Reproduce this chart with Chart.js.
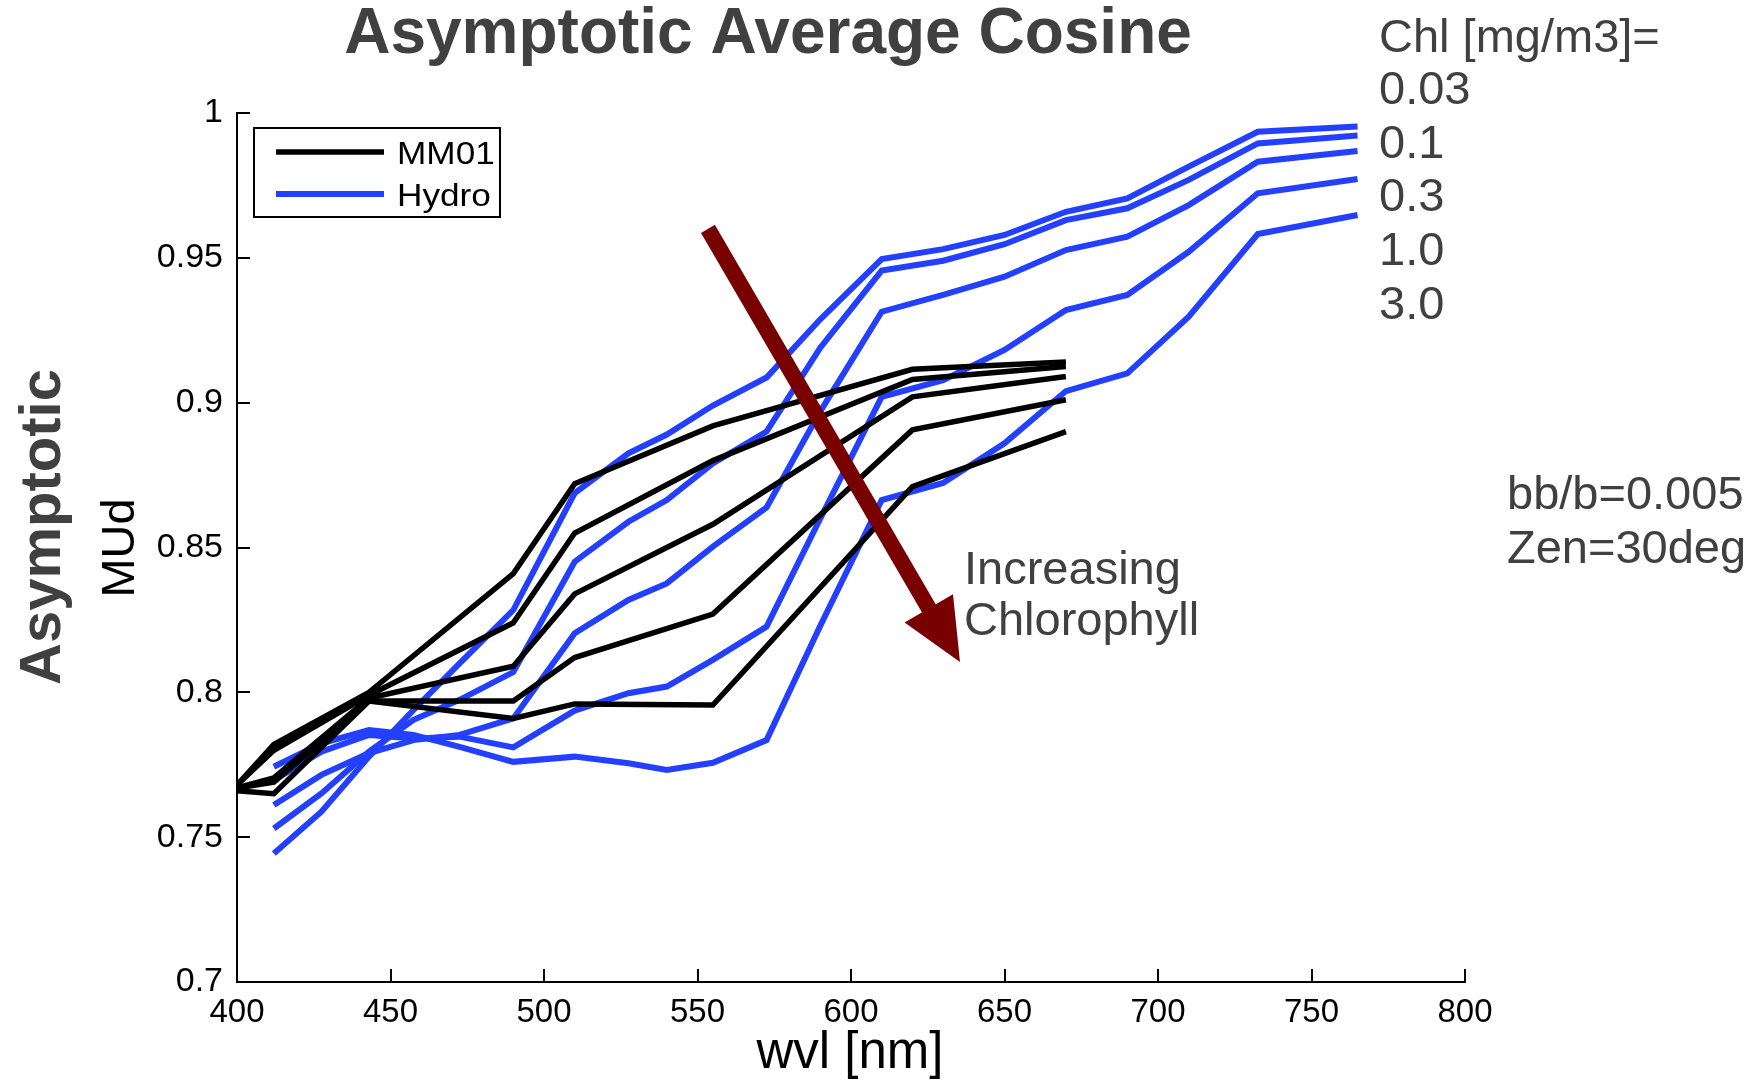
<!DOCTYPE html>
<html>
<head>
<meta charset="utf-8">
<title>Asymptotic Average Cosine</title>
<script src="https://cdn.jsdelivr.net/npm/chart.js@4.4.1/dist/chart.umd.min.js"></script>
<style>
  html, body { margin: 0; padding: 0; background: #fff; }
  #wrap { width: 1754px; height: 1083px; }
</style>
</head>
<body>
<div id="wrap"><canvas id="cosChart" width="1754" height="1083"></canvas></div>
<script>
// wavelength grids [nm]
const wvlMM01 = [400, 412, 443, 490, 510, 555, 620, 670];
const wvlHydro = [412, 427.5, 443, 457.5, 472.5, 490, 510, 527.5, 540, 555, 572.5, 590, 610, 630, 650, 670, 690, 710, 732.5, 765];

// MM01 asymptotic MUd, one array per Chl level
const mm01Chl003 = [0.768, 0.782, 0.800, 0.841, 0.872, 0.892, 0.9115, 0.914];
const mm01Chl01  = [0.768, 0.780, 0.799, 0.824, 0.855, 0.880, 0.908, 0.9125];
const mm01Chl03  = [0.767, 0.7705, 0.798, 0.809, 0.834, 0.858, 0.902, 0.909];
const mm01Chl1   = [0.767, 0.769, 0.797, 0.797, 0.812, 0.827, 0.8906, 0.901];
const mm01Chl3   = [0.766, 0.765, 0.797, 0.791, 0.796, 0.7956, 0.871, 0.890];

// Hydrolight asymptotic MUd, one array per Chl level
const hydroChl003 = [0.7444, 0.7588, 0.7778, 0.7939, 0.810, 0.8284, 0.8688, 0.8825, 0.889, 0.899, 0.9087, 0.9288, 0.9496, 0.953, 0.9579, 0.9659, 0.9705, 0.9815, 0.9935, 0.9953];
const hydroChl01  = [0.753, 0.7651, 0.7795, 0.7905, 0.7974, 0.807, 0.8451, 0.8589, 0.8664, 0.879, 0.890, 0.919, 0.9456, 0.949, 0.9547, 0.963, 0.9671, 0.9769, 0.9895, 0.9922];
const hydroChl03  = [0.7611, 0.7715, 0.779, 0.7835, 0.7853, 0.791, 0.8204, 0.8319, 0.8376, 0.8503, 0.8638, 0.897, 0.9314, 0.9372, 0.9435, 0.9527, 0.9573, 0.9682, 0.9832, 0.9869];
const hydroChl1   = [0.7697, 0.7795, 0.7853, 0.7841, 0.7847, 0.781, 0.7937, 0.7997, 0.802, 0.8112, 0.8227, 0.860, 0.902, 0.9078, 0.9182, 0.932, 0.9372, 0.9521, 0.9723, 0.9772];
const hydroChl3   = [0.7743, 0.7824, 0.787, 0.7853, 0.7812, 0.776, 0.7778, 0.7755, 0.7732, 0.7757, 0.7835, 0.823, 0.8664, 0.8723, 0.886, 0.904, 0.9101, 0.9297, 0.9582, 0.9648];

const chlLevels = ['0.03', '0.1', '0.3', '1.0', '3.0'];
const xTickValues = [400, 450, 500, 550, 600, 650, 700, 750, 800];
const yTickValues = [0.7, 0.75, 0.8, 0.85, 0.9, 0.95, 1];

// arrow from (wvl, MUd) to (wvl, MUd)
const arrowFrom = [553.4, 0.960];
const arrowTo = [635.5, 0.8105];

const FONT = '"Liberation Sans", Arial, sans-serif';
const BLACK = '#000000';
const BLUE = '#2440ff';
const GREY = '#404040';

function toPoints(xs, ys) {
  return xs.map((x, i) => ({ x: x, y: ys[i] }));
}

function lineSet(label, xs, ys, color, width) {
  return {
    label: label,
    data: toPoints(xs, ys),
    borderColor: color,
    backgroundColor: color,
    borderWidth: width,
    pointRadius: 0,
    tension: 0,
    fill: false,
    borderCapStyle: 'butt',
    borderJoinStyle: 'miter'
  };
}

// black sets come first so they are painted over the blue ones
const datasets = [
  lineSet('MM01', wvlMM01, mm01Chl003, BLACK, 5.5),
  lineSet('MM01 0.1', wvlMM01, mm01Chl01, BLACK, 5.5),
  lineSet('MM01 0.3', wvlMM01, mm01Chl03, BLACK, 5.5),
  lineSet('MM01 1.0', wvlMM01, mm01Chl1, BLACK, 5.5),
  lineSet('MM01 3.0', wvlMM01, mm01Chl3, BLACK, 5.5),
  lineSet('Hydro', wvlHydro, hydroChl003, BLUE, 6),
  lineSet('Hydro 0.1', wvlHydro, hydroChl01, BLUE, 6),
  lineSet('Hydro 0.3', wvlHydro, hydroChl03, BLUE, 6),
  lineSet('Hydro 1.0', wvlHydro, hydroChl1, BLUE, 6),
  lineSet('Hydro 3.0', wvlHydro, hydroChl3, BLUE, 6)
];

function text(ctx, str, x, y, font, color, align) {
  ctx.font = font;
  ctx.fillStyle = color;
  ctx.textAlign = align || 'left';
  ctx.textBaseline = 'alphabetic';
  ctx.fillText(str, x, y);
}

const decorPlugin = {
  id: 'decor',
  afterDraw(chart) {
    const ctx = chart.ctx;
    const a = chart.chartArea;
    const xs = chart.scales.x;
    const ys = chart.scales.y;
    ctx.save();

    // inward tick marks
    ctx.strokeStyle = '#000';
    ctx.lineWidth = 2;
    ctx.beginPath();
    xTickValues.forEach(v => {
      const px = Math.round(xs.getPixelForValue(v));
      ctx.moveTo(px, a.bottom);
      ctx.lineTo(px, a.bottom - 13);
    });
    yTickValues.forEach(v => {
      const py = Math.round(ys.getPixelForValue(v));
      ctx.moveTo(a.left, py);
      ctx.lineTo(a.left + 13, py);
    });
    ctx.stroke();

    // arrow
    const x0 = xs.getPixelForValue(arrowFrom[0]), y0 = ys.getPixelForValue(arrowFrom[1]);
    const x1 = xs.getPixelForValue(arrowTo[0]), y1 = ys.getPixelForValue(arrowTo[1]);
    const len = Math.hypot(x1 - x0, y1 - y0);
    const ux = (x1 - x0) / len, uy = (y1 - y0) / len;
    const headLen = 62, headHalf = 28;
    const bx = x1 - ux * headLen, by = y1 - uy * headLen;
    ctx.strokeStyle = '#780000';
    ctx.fillStyle = '#780000';
    ctx.lineWidth = 16;
    ctx.lineCap = 'butt';
    ctx.beginPath();
    ctx.moveTo(x0, y0);
    ctx.lineTo(bx + ux * 2, by + uy * 2);
    ctx.stroke();
    ctx.beginPath();
    ctx.moveTo(x1, y1);
    ctx.lineTo(bx - uy * headHalf, by + ux * headHalf);
    ctx.lineTo(bx + uy * headHalf, by - ux * headHalf);
    ctx.closePath();
    ctx.fill();

    // legend box
    ctx.fillStyle = '#fff';
    ctx.fillRect(254, 128, 246, 89);
    ctx.strokeStyle = '#000';
    ctx.lineWidth = 2;
    ctx.strokeRect(254, 128, 246, 89);
    ctx.lineWidth = 5.5;
    ctx.strokeStyle = BLACK;
    ctx.beginPath(); ctx.moveTo(276, 152); ctx.lineTo(384, 152); ctx.stroke();
    ctx.lineWidth = 6;
    ctx.strokeStyle = BLUE;
    ctx.beginPath(); ctx.moveTo(276, 194); ctx.lineTo(384, 194); ctx.stroke();
    ctx.save();
    ctx.scale(1.1, 1);
    text(ctx, 'MM01', 397 / 1.1, 164, '32px ' + FONT, '#000');
    text(ctx, 'Hydro', 397 / 1.1, 206, '32px ' + FONT, '#000');
    ctx.restore();

    // title and side notes
    text(ctx, 'Asymptotic Average Cosine', 768, 53, 'bold 64px ' + FONT, GREY, 'center');
    text(ctx, 'Chl [mg/m3]=', 1379, 52, '47px ' + FONT, GREY);
    chlLevels.forEach((c, i) => {
      text(ctx, c, 1379, 104 + i * 53.7, '47px ' + FONT, GREY);
    });
    text(ctx, 'bb/b=0.005', 1507, 509, '47px ' + FONT, GREY);
    text(ctx, 'Zen=30deg', 1507, 563, '47px ' + FONT, GREY);
    text(ctx, 'Increasing', 964, 584, '47px ' + FONT, GREY);
    text(ctx, 'Chlorophyll', 964, 635, '47px ' + FONT, GREY);

    // axis titles
    text(ctx, 'wvl [nm]', 850, 1068, '51px ' + FONT, '#000', 'center');
    ctx.save();
    ctx.translate(60, 527);
    ctx.rotate(-Math.PI / 2);
    text(ctx, 'Asymptotic', 0, 0, 'bold 58px ' + FONT, GREY, 'center');
    ctx.restore();
    ctx.save();
    ctx.translate(134, 548);
    ctx.rotate(-Math.PI / 2);
    text(ctx, 'MUd', 0, 0, '47px ' + FONT, '#000', 'center');
    ctx.restore();

    ctx.restore();
  }
};

new Chart(document.getElementById('cosChart').getContext('2d'), {
  type: 'line',
  data: { datasets: datasets },
  options: {
    responsive: false,
    animation: false,
    devicePixelRatio: 1,
    layout: { padding: { left: 0, top: 113, right: 289, bottom: 0 } },
    plugins: {
      legend: { display: false },
      title: { display: false },
      tooltip: { enabled: false }
    },
    scales: {
      x: {
        type: 'linear',
        min: 400,
        max: 800,
        afterFit: s => { s.height = 101; },
        afterBuildTicks: s => { s.ticks = xTickValues.map(v => ({ value: v })); },
        ticks: { color: '#000', font: { family: FONT, size: 33 }, padding: 11, maxRotation: 0 },
        grid: { display: false, drawTicks: false },
        border: { display: true, color: '#000', width: 2 }
      },
      y: {
        min: 0.7,
        max: 1,
        afterFit: s => { s.width = 237; },
        afterBuildTicks: s => { s.ticks = yTickValues.map(v => ({ value: v })); },
        ticks: {
          color: '#000',
          font: { family: FONT, size: 34 },
          padding: 14,
          callback: v => String(+v.toFixed(2))
        },
        grid: { display: false, drawTicks: false },
        border: { display: true, color: '#000', width: 2 }
      }
    }
  },
  plugins: [decorPlugin]
});
</script>
</body>
</html>
